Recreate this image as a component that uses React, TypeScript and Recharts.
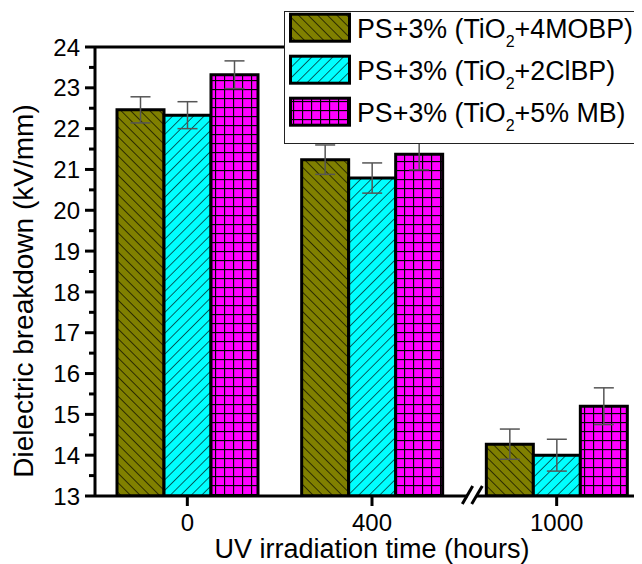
import React from 'react';
import { BarChart, Bar, XAxis, YAxis, ErrorBar, ReferenceLine } from 'recharts';

// ---- data ----
const categories = ['0', '400', '1000'];
const mobpValues = [22.46, 21.24, 14.27];
const mobpErrors = [0.32, 0.36, 0.37];
const clbpValues = [22.33, 20.79, 14.0];
const clbpErrors = [0.33, 0.37, 0.39];
const mbValues = [23.32, 21.37, 15.2];
const mbErrors = [0.34, 0.38, 0.45];
const yTicks = [13, 13.5, 14, 14.5, 15, 15.5, 16, 16.5, 17, 17.5, 18, 18.5, 19, 19.5, 20, 20.5, 21, 21.5, 22, 22.5, 23, 23.5, 24];
const seriesNames = ['+4MOBP)', '+2ClBP)', '+5% MB)'];
const xTitle = 'UV irradiation time (hours)';
const yTitle = 'Dielectric breakdown (kV/mm)';

const data = categories.map((c, i) => ({
  cat: c,
  mobp: mobpValues[i],
  mobpErr: mobpErrors[i],
  clbp: clbpValues[i],
  clbpErr: clbpErrors[i],
  mb: mbValues[i],
  mbErr: mbErrors[i],
}));

const series = [
  { key: 'mobp', err: 'mobpErr', fill: 'url(#pOlive)', tail: seriesNames[0] },
  { key: 'clbp', err: 'clbpErr', fill: 'url(#pCyan)', tail: seriesNames[1] },
  { key: 'mb', err: 'mbErr', fill: 'url(#pMag)', tail: seriesNames[2] },
];

// ---- layout ----
const FONT = '"Liberation Sans", Arial, sans-serif';
const CHART_W = 641;
const CHART_H = 556;
const Y_AXIS_W = 87;
const X_AXIS_H = 68;
const TOP = 39;
const BREAK_X = 464;
const AXIS_Y = CHART_H - X_AXIS_H;

const YTick = (props: any) => {
  const { x, y, payload } = props;
  const v = Number(payload.value);
  const major = Math.abs(v - Math.round(v)) < 1e-6;
  return (
    <g>
      <line x1={x - (major ? 10 : 6)} x2={x} y1={y} y2={y} stroke="#000" strokeWidth={3} />
      {major && (
        <text x={x - 15} y={y} dy="0.36em" textAnchor="end" fontSize={24} fontFamily={FONT} fill="#000">
          {v}
        </text>
      )}
    </g>
  );
};

const XTick = (props: any) => {
  const { x, y, payload } = props;
  return (
    <g>
      <line x1={x} x2={x} y1={y} y2={y + 10} stroke="#000" strokeWidth={3} />
      <text x={x} y={y + 26} dy="0.36em" textAnchor="middle" fontSize={24} fontFamily={FONT} fill="#000">
        {payload.value}
      </text>
    </g>
  );
};

const XTitle = (props: any) => {
  const vb = props.viewBox || { x: Y_AXIS_W, y: AXIS_Y, width: CHART_W - Y_AXIS_W, height: X_AXIS_H };
  return (
    <text x={vb.x + vb.width / 2} y={vb.y + 62} textAnchor="middle" fontSize={27} fontFamily={FONT} fill="#000">
      {xTitle}
    </text>
  );
};

const YTitle = () => {
  const cx = 25;
  const cy = 283;
  return (
    <text x={cx} y={cy} transform={`rotate(-90, ${cx}, ${cy})`} textAnchor="middle" fontSize={28} fontFamily={FONT} fill="#000">
      {yTitle}
    </text>
  );
};

const Patterns = () => (
  <svg width={0} height={0} style={{ position: 'absolute' }}>
    <defs>
      <pattern id="pOlive" patternUnits="userSpaceOnUse" width={6.8} height={6.8} patternTransform="rotate(-45)">
        <rect width={6.8} height={6.8} fill="#808000" />
        <line x1={0} y1={0} x2={0} y2={6.8} stroke="#000" strokeWidth={1.3} />
      </pattern>
      <pattern id="pCyan" patternUnits="userSpaceOnUse" width={7.4} height={7.4} patternTransform="rotate(45)">
        <rect width={7.4} height={7.4} fill="#00FFFF" />
        <line x1={0} y1={0} x2={0} y2={7.4} stroke="#000" strokeWidth={1.2} />
      </pattern>
      <pattern id="pMag" patternUnits="userSpaceOnUse" width={9} height={9}>
        <rect width={9} height={9} fill="#FF00FF" />
        <line x1={0.5} y1={0} x2={0.5} y2={9} stroke="#000" strokeWidth={1.3} />
        <line x1={0} y1={0.5} x2={9} y2={0.5} stroke="#000" strokeWidth={1.3} />
      </pattern>
    </defs>
  </svg>
);

const LegendBox = () => (
  <svg
    width={370}
    height={134}
    style={{ position: 'absolute', left: 276, top: 3, pointerEvents: 'none' }}
  >
    <rect x={0.5} y={0.5} width={420} height={132} fill="#fff" stroke="#222" strokeWidth={1} />
    {series.map((s, i) => {
      const top = 3.2 + i * 42;
      const base = 26.6 + i * 42;
      return (
        <g key={s.key}>
          <rect x={6.5} y={top} width={59} height={27} fill={s.fill} stroke="#000" strokeWidth={3} />
          <text x={73} y={base} fontSize={26.8} fontFamily={FONT} fill="#000">
            <tspan>PS+3% (TiO</tspan>
            <tspan fontSize={16} dy={9}>2</tspan>
            <tspan dy={-9}>{s.tail}</tspan>
          </text>
        </g>
      );
    })}
  </svg>
);

const AxisBreak = () => (
  <svg
    width={634}
    height={556}
    style={{ position: 'absolute', left: 0, top: 0, pointerEvents: 'none' }}
  >
    <rect x={BREAK_X - 4.5} y={AXIS_Y - 3} width={9} height={6} fill="#fff" />
    <line x1={BREAK_X - 9.7} y1={AXIS_Y + 8} x2={BREAK_X + 0.7} y2={AXIS_Y - 10} stroke="#000" strokeWidth={3} />
    <line x1={BREAK_X - 0.3} y1={AXIS_Y + 8} x2={BREAK_X + 10.3} y2={AXIS_Y - 10} stroke="#000" strokeWidth={3} />
  </svg>
);

export default function App() {
  return (
    <div style={{ position: 'relative', width: 634, height: 556, overflow: 'hidden', fontFamily: FONT }}>
      <Patterns />
      <BarChart
        width={CHART_W}
        height={CHART_H}
        data={data}
        margin={{ top: TOP, right: 0, bottom: 0, left: 0 }}
        barSize={47}
        barGap={0}
      >
        <XAxis
          dataKey="cat"
          type="category"
          height={X_AXIS_H}
          interval={0}
          tickSize={0}
          tickMargin={0}
          tickLine={false}
          tick={<XTick />}
          axisLine={{ stroke: '#000', strokeWidth: 3 }}
          label={{ content: <XTitle /> }}
        />
        <YAxis
          type="number"
          domain={[13, 24]}
          ticks={yTicks}
          interval={0}
          allowDataOverflow
          width={Y_AXIS_W}
          tickSize={0}
          tickMargin={0}
          tickLine={false}
          tick={<YTick />}
          axisLine={{ stroke: '#000', strokeWidth: 3 }}
          label={{ content: <YTitle /> }}
        />
        <ReferenceLine y={24} stroke="#000" strokeWidth={3} />
        {series.map((s) => (
          <Bar key={s.key} dataKey={s.key} fill={s.fill} stroke="#000" strokeWidth={3} isAnimationActive={false}>
            <ErrorBar dataKey={s.err} width={10} stroke="#555" strokeWidth={1.5} direction="y" />
          </Bar>
        ))}
      </BarChart>
      <AxisBreak />
      <LegendBox />
    </div>
  );
}
